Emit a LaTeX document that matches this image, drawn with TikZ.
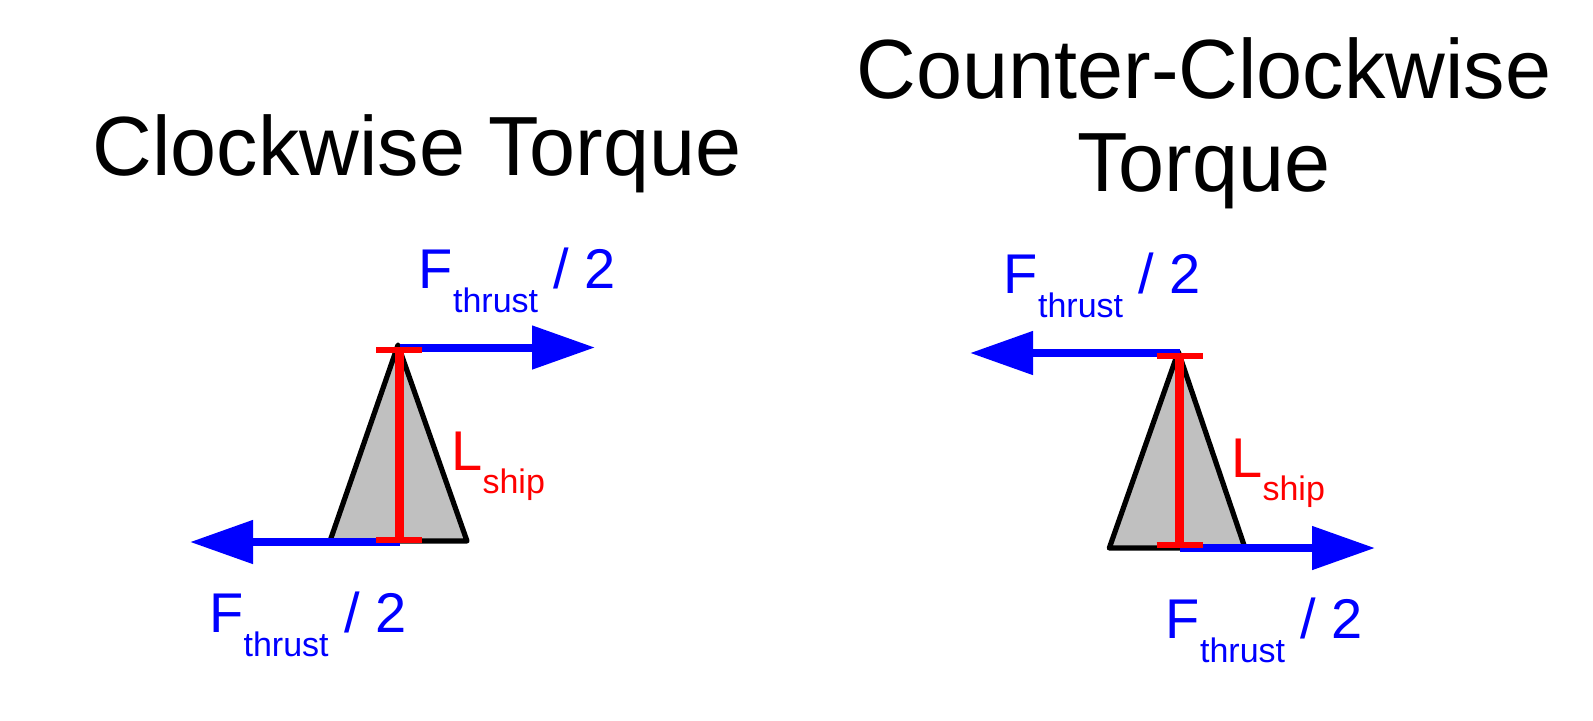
\documentclass[tikz,border=0pt]{standalone}
\usepackage{fontspec}
\setmainfont{Liberation Sans}
\newfontfamily\titlefont[FakeStretch=0.985]{Liberation Sans}
\usetikzlibrary{arrows.meta}
\definecolor{fblue}{RGB}{0,0,255}
\definecolor{lred}{RGB}{255,0,0}
\definecolor{shipgray}{RGB}{192,192,192}
\newcommand{\fthrust}{F\raisebox{-12pt}{\fontsize{17pt}{17pt}\selectfont thrust} / 2}
\newcommand{\lship}{L\raisebox{-11.5pt}{\fontsize{17pt}{17pt}\selectfont ship}}
\begin{document}
\begin{tikzpicture}[x=0.5pt,y=-0.5pt,
  title/.style={anchor=base,inner sep=0pt,font=\titlefont\fontsize{42pt}{46pt}\selectfont},
  forcelabel/.style={anchor=base west,inner sep=0pt,text=fblue,font=\fontsize{28pt}{28pt}\selectfont},
  lenlabel/.style={anchor=base west,inner sep=0pt,text=lred,font=\fontsize{28pt}{28pt}\selectfont},
  hull/.style={draw=black,fill=shipgray,line width=2.6pt,line join=round},
  force/.style={draw=fblue,line width=4pt,-{Triangle[length=31.5pt,width=21pt]}},
  measure/.style={draw=lred,line width=4.5pt},
  tick/.style={draw=lred,line width=3pt}]
\useasboundingbox (0,0) rectangle (1593,720);
% titles
\node[title] (t1) at (417,175) {Clockwise Torque};
\node[title] (t2a) at (1204,98) {Counter-Clockwise};
\node[title] (t2b) at (1204,191) {Torque};
% ---------- left figure ----------
\coordinate (la) at (398,345);
\coordinate (lb1) at (330,541);
\coordinate (lb2) at (467,541);
\draw[hull] (la) -- (lb1) -- (lb2) -- cycle;
\coordinate (ltop) at (400,347.5);
\coordinate (ltopend) at (595,347.5);
\coordinate (lbot) at (400,542);
\coordinate (lbotend) at (190,542);
\draw[force] (ltop) -- (ltopend);
\draw[force] (lbot) -- (lbotend);
\coordinate (lm1) at (399.3,349.7);
\coordinate (lm2) at (399.3,539.7);
\draw[measure] (lm1) -- (lm2);
\draw[tick] ([xshift=-11.5pt]lm1) -- ([xshift=11.5pt]lm1);
\draw[tick] ([xshift=-11.5pt]lm2) -- ([xshift=11.5pt]lm2);
\node[forcelabel] (lf1) at (418.5,288) {\fthrust};
\node[forcelabel] (lf2) at (209,632) {\fthrust};
\node[lenlabel] (ll) at (451,470) {\lship};
% ---------- right figure ----------
\coordinate (ra) at (1178.3,351.7);
\coordinate (rb1) at (1109.3,548);
\coordinate (rb2) at (1245,548);
\draw[hull] (ra) -- (rb1) -- (rb2) -- cycle;
\coordinate (rtop) at (1180,353);
\coordinate (rtopend) at (970,353);
\coordinate (rbot) at (1180,548);
\coordinate (rbotend) at (1375,548);
\draw[force] (rtop) -- (rtopend);
\draw[force] (rbot) -- (rbotend);
\coordinate (rm1) at (1179.5,356);
\coordinate (rm2) at (1179.5,545);
\draw[measure] (rm1) -- (rm2);
\draw[tick] ([xshift=-11.5pt]rm1) -- ([xshift=11.5pt]rm1);
\draw[tick] ([xshift=-11.5pt]rm2) -- ([xshift=11.5pt]rm2);
\node[forcelabel] (rf1) at (1003.5,293) {\fthrust};
\node[forcelabel] (rf2) at (1165.5,638) {\fthrust};
\node[lenlabel] (rl) at (1231,477) {\lship};
\end{tikzpicture}
\end{document}
